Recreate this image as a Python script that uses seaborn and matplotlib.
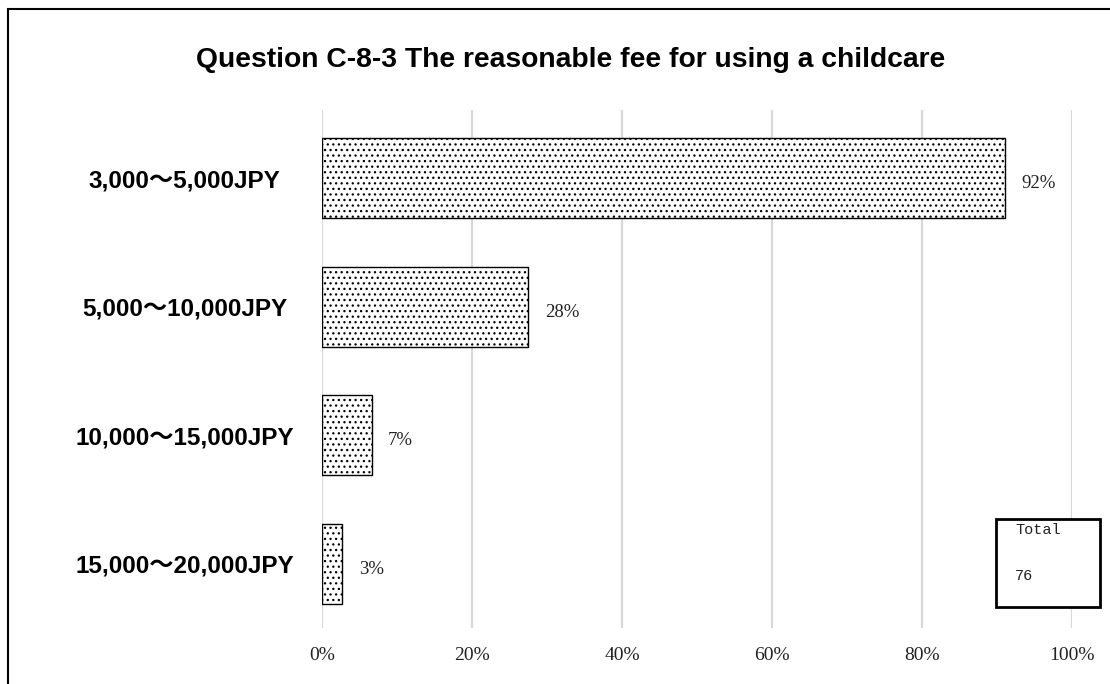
import matplotlib
matplotlib.use("Agg")
import matplotlib.pyplot as plt
import seaborn as sns
import pandas as pd
from matplotlib.patches import Rectangle
from matplotlib.ticker import FuncFormatter

categories = ["3,000～5,000JPY", "5,000～10,000JPY", "10,000～15,000JPY", "15,000～20,000JPY"]
values = [0.91, 0.275, 0.066, 0.027]
value_labels = ["92%", "28%", "7%", "3%"]
xticks = [0, 0.2, 0.4, 0.6, 0.8, 1.0]
title = "Question C-8-3 The reasonable fee for using a childcare"
total_label = "Total"
total_value = "76"

sns.set_theme(style="white")
plt.rcParams['hatch.linewidth'] = 0.9
plt.rcParams['hatch.color'] = '#666666'

W, H = 1110, 684
fig = plt.figure(figsize=(W / 100, H / 100), dpi=100)
fig.patch.set_facecolor("white")
ax = fig.add_axes([322 / W, 1 - 628 / H, 750 / W, 518 / H])

df = pd.DataFrame({"cat": categories, "val": values})
sns.barplot(data=df, x="val", y="cat", orient="h", color="white",
            edgecolor="black", linewidth=1.0, width=0.62, ax=ax, saturation=1)
for p in ax.patches:
    p.set_hatch("...")
    p.set_facecolor("white")
    p.set_edgecolor("black")

ax.set_xlim(0, 1.0)
ax.set_ylim(3.5, -0.53)
ax.set_xticks(xticks)
ax.xaxis.set_major_formatter(FuncFormatter(lambda v, _: f"{v*100:.0f}%"))
ax.grid(axis="x", color="#d9d9d9", linewidth=1.6)
ax.grid(axis="y", visible=False)
ax.set_axisbelow(True)
for s in ax.spines.values():
    s.set_visible(False)
ax.set_xlabel("")
ax.set_ylabel("")
ax.tick_params(axis="both", length=0)
for lbl in ax.get_xticklabels():
    lbl.set_family(["Liberation Serif", "DejaVu Serif"])
    lbl.set_fontsize(14)
    lbl.set_color("#222222")
ax.tick_params(axis="x", pad=14)
ax.tick_params(axis="y", pad=99)
for lbl in ax.get_yticklabels():
    lbl.set_family(["Liberation Sans", "Noto Sans CJK JP"])
    lbl.set_fontweight("bold")
    lbl.set_fontsize(17.5)
    lbl.set_color("black")
    lbl.set_horizontalalignment("center")

for i, (v, t) in enumerate(zip(values, value_labels)):
    ax.annotate(t, xy=(v, i), xytext=(12, -4), textcoords="offset points",
                ha="left", va="center", fontsize=13.5,
                family=["Liberation Serif", "DejaVu Serif"], color="#222222")

fig.text(571 / W, 1 - 60 / H, title, ha="center", va="center",
         fontsize=20.3, fontweight="bold", family=["Liberation Sans", "DejaVu Sans"],
         color="black")

# outer border (cropped frame)
fig.patches.append(Rectangle((8 / W, -0.1), 1.2, (1 - 9 / H) + 0.1,
                             transform=fig.transFigure, fill=False,
                             edgecolor="black", linewidth=1.5, clip_on=False))
# total box
fig.patches.append(Rectangle((996 / W, 1 - 607 / H), 104 / W, 88 / H,
                             transform=fig.transFigure, fill=True, facecolor="white",
                             edgecolor="black", linewidth=2, zorder=5))
fig.text(1015 / W, 1 - 530 / H, total_label, ha="left", va="center", fontsize=11,
         family=["Liberation Mono", "DejaVu Sans Mono"], color="#222222", zorder=6)
fig.text(1015 / W, 1 - 576 / H, total_value, ha="left", va="center", fontsize=11,
         family=["Liberation Mono", "DejaVu Sans Mono"], color="#222222", zorder=6)

fig.savefig("out.png", dpi=100, facecolor="white")
